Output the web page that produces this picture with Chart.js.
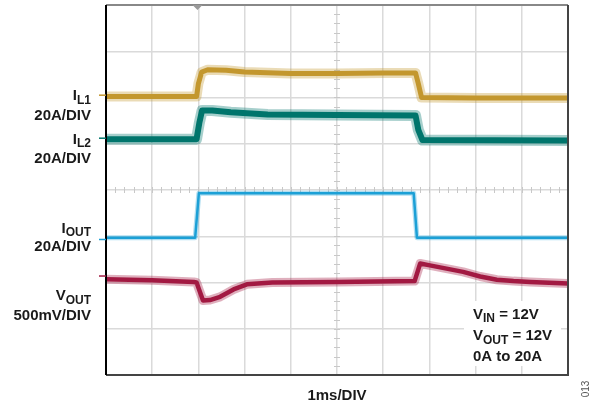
<!DOCTYPE html>
<html>
<head>
<meta charset="utf-8">
<script src="https://cdn.jsdelivr.net/npm/chart.js@4"></script>
<style>
  body { margin: 0; background: #fff; }
  #scope { display: block; }
</style>
</head>
<body>
<canvas id="scope" width="595" height="408"></canvas>
<script>
// ------------------------------------------- Data --------------------------------------------------
// x in ms (1ms/DIV, 10 divisions), y in screen divisions (0 = bottom, 8 = top)

const il1Time = [0, 1.96, 2.0, 2.07, 2.2, 2.6, 3.0, 4.0, 5.0, 6.0, 6.7, 6.76, 6.83, 8.0, 10];
const il1Div  = [6.02, 6.02, 6.3, 6.55, 6.6, 6.59, 6.55, 6.52, 6.52, 6.53, 6.53, 6.3, 6.0, 5.99, 5.99];

const il2Time = [0, 1.96, 2.02, 2.08, 2.3, 2.7, 3.5, 5.0, 6.7, 6.76, 6.85, 10];
const il2Div  = [5.1, 5.1, 5.45, 5.72, 5.72, 5.68, 5.63, 5.62, 5.61, 5.3, 5.08, 5.07];

const ioutTime = [0, 1.93, 2.01, 4.0, 6.66, 6.73, 10];
const ioutDiv  = [2.97, 2.97, 3.93, 3.93, 3.93, 2.97, 2.97];

const voutTime = [0, 1.0, 1.9, 1.96, 2.1, 2.25, 2.47, 2.76, 3.05, 3.6, 5.0, 6.68, 6.8, 7.01, 7.37, 7.73, 8.1, 8.46, 8.82, 9.18, 10];
const voutDiv  = [2.07, 2.05, 2.01, 2.0, 1.61, 1.62, 1.69, 1.85, 1.96, 2.0, 2.01, 2.03, 2.41, 2.37, 2.3, 2.23, 2.13, 2.06, 2.03, 2.01, 1.98];

// channel offset markers on the left edge (divisions)
const channelOffsets = [6.05, 5.12, 2.93, 2.14];
const triggerTime = 1.98;

const traceColors = ['#C4972F', '#00766C', '#1CA0D6', '#A21A42'];
const traceHaze   = ['rgba(196,151,47,0.35)', 'rgba(0,118,108,0.35)', 'rgba(28,160,214,0.35)', 'rgba(162,26,66,0.35)'];

const toPoints = (t, v) => t.map((x, i) => ({ x: x, y: v[i] }));

// ------------------------------------------- Overlay --------------------------------------------------

function drawSubText(ctx, parts, x, y, align) {
    // parts: [text, isSub]
    let total = 0;
    parts.forEach(p => {
        ctx.font = p[1] ? 'bold 12px "Liberation Sans", Arial, sans-serif' : 'bold 15px "Liberation Sans", Arial, sans-serif';
        total += ctx.measureText(p[0]).width;
    });
    let cx = align === 'right' ? x - total : x;
    ctx.textAlign = 'left';
    ctx.textBaseline = 'alphabetic';
    parts.forEach(p => {
        ctx.font = p[1] ? 'bold 12px "Liberation Sans", Arial, sans-serif' : 'bold 15px "Liberation Sans", Arial, sans-serif';
        ctx.fillText(p[0], cx, p[1] ? y + 3.5 : y);
        cx += ctx.measureText(p[0]).width;
    });
}

const scopeOverlay = {
    id: 'scopeOverlay',
    beforeDatasetsDraw(chart) {
        const { ctx, chartArea: a, scales: { x, y } } = chart;
        // minor ticks on centre cross
        ctx.save();
        ctx.strokeStyle = '#c8c8c8';
        ctx.lineWidth = 1;
        ctx.beginPath();
        const cy = y.getPixelForValue(4);
        const cx = x.getPixelForValue(5);
        for (let t = 0.2; t < 10; t += 0.2) {
            const px = Math.round(x.getPixelForValue(t)) + 0.5;
            ctx.moveTo(px, cy - 3); ctx.lineTo(px, cy + 3);
        }
        for (let t = 0.2; t < 8; t += 0.2) {
            const py = Math.round(y.getPixelForValue(t)) + 0.5;
            ctx.moveTo(cx - 3, py); ctx.lineTo(cx + 3, py);
        }
        ctx.stroke();
        ctx.restore();
    },
    afterDraw(chart) {
        const { ctx, chartArea: a, scales: { x, y } } = chart;
        ctx.save();

        // annotation box covers the grid
        ctx.fillStyle = '#fff';
        ctx.fillRect(464, 301, 97, 65);

        // frame
        ctx.lineWidth = 2;
        ctx.strokeStyle = '#888';
        ctx.beginPath(); ctx.moveTo(a.left, a.top); ctx.lineTo(a.right, a.top); ctx.stroke();
        ctx.strokeStyle = '#444';
        ctx.beginPath(); ctx.moveTo(a.right, a.top); ctx.lineTo(a.right, a.bottom); ctx.lineTo(a.left, a.bottom); ctx.stroke();
        ctx.strokeStyle = '#000';
        ctx.beginPath(); ctx.moveTo(a.left, a.top); ctx.lineTo(a.left, a.bottom); ctx.stroke();

        // trigger marker
        const tx = x.getPixelForValue(triggerTime);
        ctx.fillStyle = '#999';
        ctx.beginPath();
        ctx.moveTo(tx - 5, a.top); ctx.lineTo(tx + 5, a.top); ctx.lineTo(tx, a.top + 5);
        ctx.closePath(); ctx.fill();

        // channel offset markers
        ctx.lineWidth = 1.5;
        channelOffsets.forEach((v, i) => {
            const py = y.getPixelForValue(v);
            ctx.strokeStyle = traceColors[i];
            ctx.beginPath(); ctx.moveTo(a.left - 7, py); ctx.lineTo(a.left, py); ctx.stroke();
        });

        // channel labels
        ctx.fillStyle = '#1a1a1a';
        const rx = 91;
        drawSubText(ctx, [['I', false], ['L1', true]], rx, 100, 'right');
        drawSubText(ctx, [['20A/DIV', false]], rx, 119.5, 'right');
        drawSubText(ctx, [['I', false], ['L2', true]], rx, 143.5, 'right');
        drawSubText(ctx, [['20A/DIV', false]], rx, 163, 'right');
        drawSubText(ctx, [['I', false], ['OUT', true]], rx, 232.5, 'right');
        drawSubText(ctx, [['20A/DIV', false]], rx, 250.5, 'right');
        drawSubText(ctx, [['V', false], ['OUT', true]], rx, 300, 'right');
        drawSubText(ctx, [['500mV/DIV', false]], rx, 319.5, 'right');

        // conditions
        drawSubText(ctx, [['V', false], ['IN', true], [' = 12V', false]], 473, 318.5, 'left');
        drawSubText(ctx, [['V', false], ['OUT', true], [' = 12V', false]], 473, 340, 'left');
        drawSubText(ctx, [['0A to 20A', false]], 473, 360.5, 'left');

        // time base
        ctx.font = 'bold 15px "Liberation Sans", Arial, sans-serif';
        ctx.textAlign = 'center';
        ctx.fillText('1ms/DIV', 337, 400);

        // figure number
        ctx.translate(589, 389);
        ctx.rotate(-Math.PI / 2);
        ctx.font = '10px "Liberation Sans", Arial, sans-serif';
        ctx.fillStyle = '#555';
        ctx.fillText('013', 0, 0);

        ctx.restore();
    }
};

// ------------------------------------------- Chart.js --------------------------------------------------

// core trace width and the lighter noise band around it
const traceWidths = [5, 6, 2.5, 4.5];
const hazeWidths = [10, 11, 5, 9];
const series = [
    toPoints(il1Time, il1Div),
    toPoints(il2Time, il2Div),
    toPoints(ioutTime, ioutDiv),
    toPoints(voutTime, voutDiv)
];

const datasets = [];
series.forEach((pts, i) => {
    datasets.push({
        data: pts,
        borderColor: traceHaze[i],
        borderWidth: hazeWidths[i],
        borderJoinStyle: 'round',
        pointRadius: 0,
        tension: 0
    });
    datasets.push({
        data: pts,
        borderColor: traceColors[i],
        borderWidth: traceWidths[i],
        borderJoinStyle: 'round',
        pointRadius: 0,
        tension: 0
    });
});

const scope = new Chart(document.getElementById('scope'), {
    type: 'line',
    data: { datasets: datasets },
    options: {
        responsive: false,
        animation: false,
        layout: { padding: { left: 106, top: 5, right: 27, bottom: 33 } },
        scales: {
            x: {
                type: 'linear', min: 0, max: 10,
                ticks: { display: false, stepSize: 1 },
                grid: { color: '#dadada', lineWidth: 1.5, drawTicks: false },
                border: { display: false }
            },
            y: {
                type: 'linear', min: 0, max: 8,
                ticks: { display: false, stepSize: 1 },
                grid: { color: '#dadada', lineWidth: 1.5, drawTicks: false },
                border: { display: false }
            }
        },
        plugins: {
            legend: { display: false },
            tooltip: { enabled: false }
        }
    },
    plugins: [scopeOverlay]
});
</script>
</body>
</html>
